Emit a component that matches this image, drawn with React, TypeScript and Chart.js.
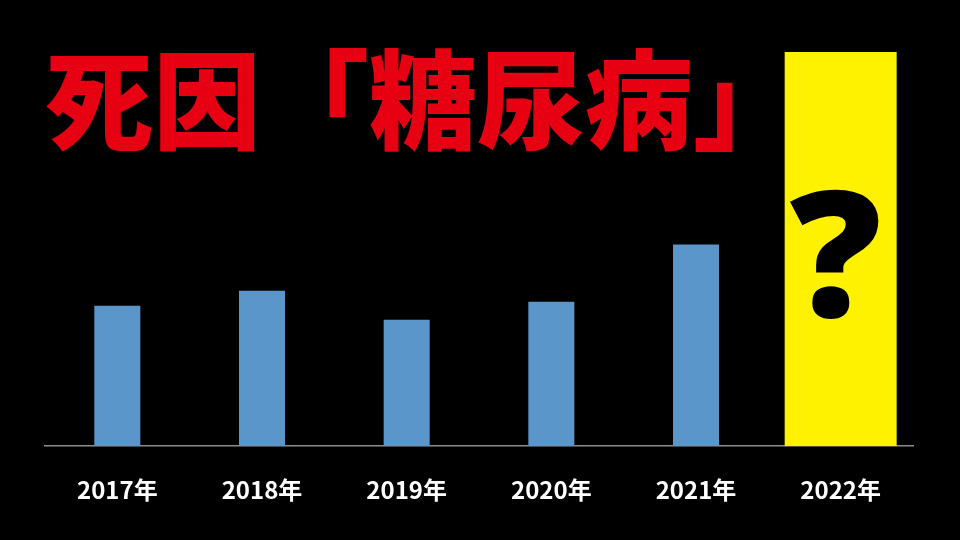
import React, { useEffect, useRef } from "react";
import { Chart, registerables } from "chart.js";

Chart.register(...registerables);

const categories = ["2017年", "2018年", "2019年", "2020年", "2021年", "2022年"];
const knownValues = [140, 155, 126, 144, 201, null];
const unknownValues = [null, null, null, null, null, 393];
const yMax = 393;
const titleText = "死因「糖尿病」";
const unknownMark = "?";

const questionPlugin = {
  id: "questionMark",
  afterDatasetsDraw(chart: any) {
    const meta = chart.getDatasetMeta(1);
    const ctx = chart.ctx;
    meta.data.forEach((el: any, i: number) => {
      if (unknownValues[i] == null) return;
      const cx = el.x - 5;
      const cy = (el.y + el.base) / 2;
      ctx.save();
      ctx.translate(cx, cy + 68);
      ctx.scale(1.03, 1);
      ctx.fillStyle = "#000000";
      ctx.font = "900 176px 'Noto Sans', 'Open Sans', sans-serif";
      ctx.textAlign = "center";
      ctx.textBaseline = "alphabetic";
      ctx.fillText(unknownMark, 0, 0);
      ctx.restore();
    });
  },
};

export default function App() {
  const ref = useRef<HTMLCanvasElement | null>(null);
  useEffect(() => {
    document.body.style.margin = "0";
    document.body.style.background = "#000";
    if (!ref.current) return;
    const chart = new Chart(ref.current, {
      type: "bar",
      data: {
        labels: categories,
        datasets: [
          {
            data: knownValues as any,
            backgroundColor: "#5b96ca",
            barPercentage: 0.318,
            categoryPercentage: 1,
            grouped: false,
          } as any,
          {
            data: unknownValues as any,
            backgroundColor: "#fff200",
            barPercentage: 0.774,
            categoryPercentage: 1,
            grouped: false,
          } as any,
        ],
      },
      options: {
        animation: false,
        responsive: false,
        maintainAspectRatio: false,
        layout: { padding: { left: 45, right: 47, top: 52, bottom: 7 } },
        plugins: {
          legend: { display: false },
          title: { display: false },
          tooltip: { enabled: false },
        },
        scales: {
          x: {
            grid: { display: false, drawTicks: false },
            border: { display: true, color: "#8c8c8c", width: 1.5 },
            ticks: {
              color: "#ffffff",
              padding: 29,
              font: { family: "'Noto Sans CJK JP', sans-serif", size: 24, weight: "bold" },
            },
          },
          y: {
            display: false,
            min: 0,
            max: yMax,
          },
        },
      },
      plugins: [questionPlugin],
    });
    return () => chart.destroy();
  }, []);

  return (
    <div style={{ position: "relative", width: 960, height: 540, background: "#000", overflow: "hidden" }}>
      <canvas ref={ref} width={960} height={540} style={{ position: "absolute", left: 0, top: 0 }} />
      <div
        style={{
          position: "absolute",
          left: 45,
          top: 40,
          fontFamily: "'Noto Sans CJK JP', sans-serif",
          fontWeight: 900,
          fontSize: 108,
          lineHeight: "108px",
          color: "#e60012",
          whiteSpace: "nowrap",
        }}
      >
        {titleText}
      </div>
    </div>
  );
}
